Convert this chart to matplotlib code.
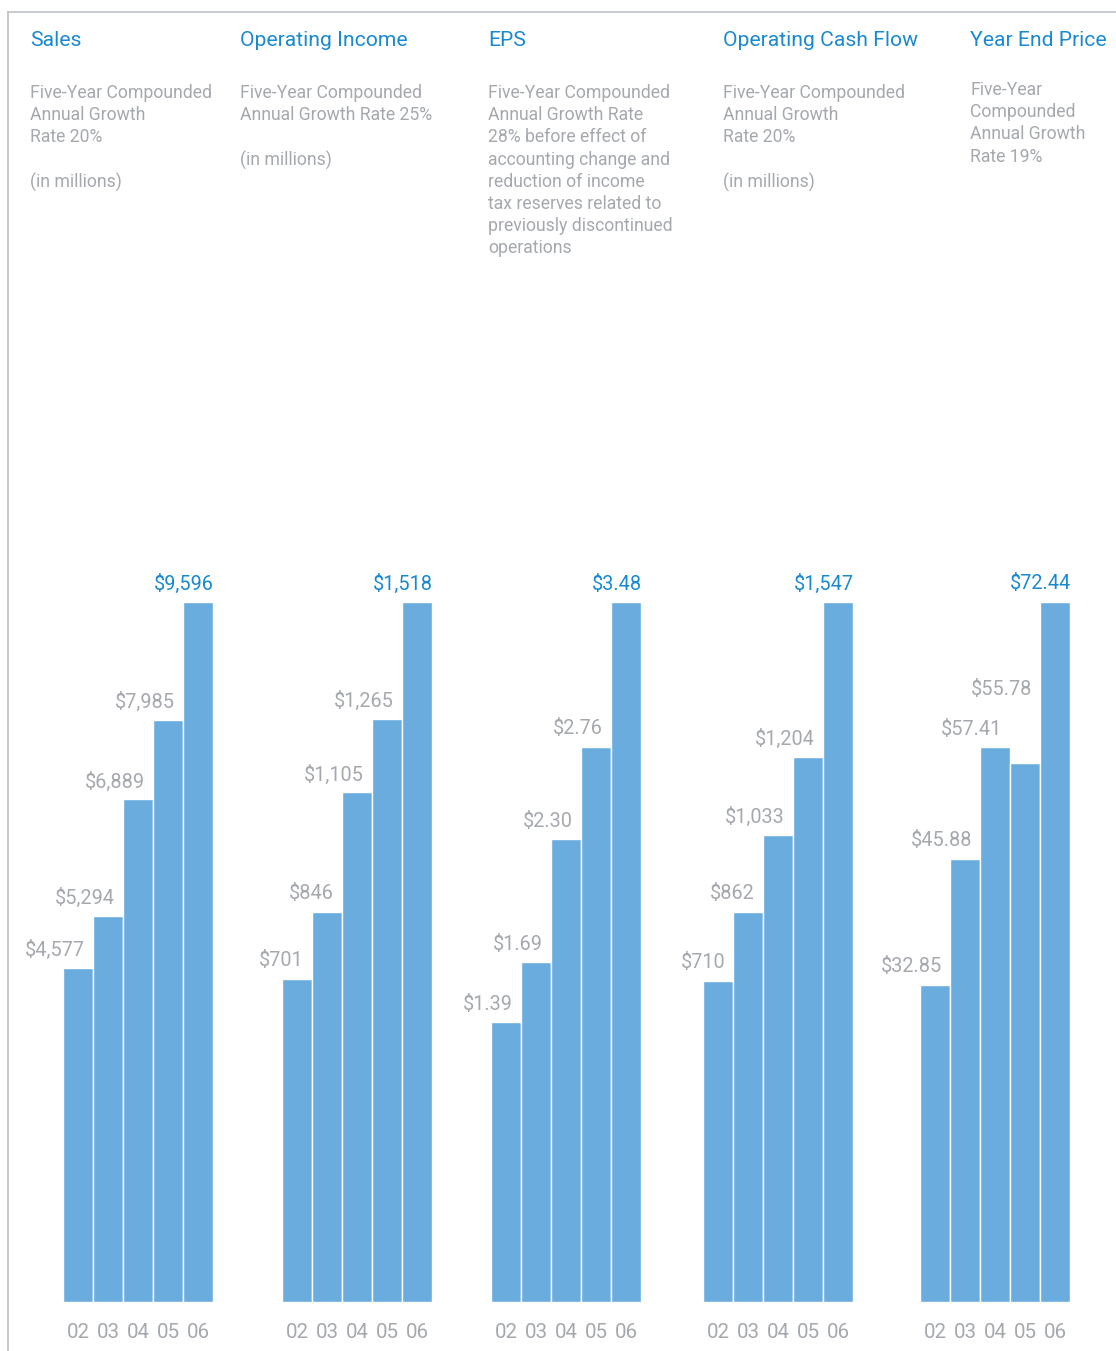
import numpy as np
import matplotlib.pyplot as plt
from matplotlib.lines import Line2D

W, H = 1116, 1351

years = ['02', '03', '04', '05', '06']

titles = ['Sales', 'Operating Income', 'EPS', 'Operating Cash Flow', 'Year End Price']
notes = [
    'Five-Year Compounded\nAnnual Growth\nRate 20%\n\n(in millions)',
    'Five-Year Compounded\nAnnual Growth Rate 25%\n\n(in millions)',
    'Five-Year Compounded\nAnnual Growth Rate\n28% before effect of\naccounting change and\nreduction of income\ntax reserves related to\npreviously discontinued\noperations',
    'Five-Year Compounded\nAnnual Growth\nRate 20%\n\n(in millions)',
    'Five-Year\nCompounded\nAnnual Growth\nRate 19%',
]

sales = [4577, 5294, 6889, 7985, 9596]
op_income = [701, 846, 1105, 1265, 1518]
eps = [1.39, 1.69, 2.30, 2.76, 3.48]
cash_flow = [710, 862, 1033, 1204, 1547]
price = [32.85, 45.88, 57.41, 55.78, 72.44]

label_fmt = ['${:,.0f}', '${:,.0f}', '${:.2f}', '${:,.0f}', '${:.2f}']
series = [sales, op_income, eps, cash_flow, price]

# layout in pixels
bar_left = [63, 282, 491, 703, 920]
title_x = [30, 240, 488, 723, 970]
note_y = [84, 84, 84, 84, 81]
base_y = 1302
plot_h = 700
plot_w = 150

blue_bar = '#6aacde'
blue_txt = '#1a8ad0'
gray_txt = '#a5a9ae'
frame_col = '#c3c7cb'

plt.rcParams['font.family'] = ['Roboto', 'DejaVu Sans']

fig = plt.figure(figsize=(W / 100, H / 100), dpi=100)

# frame lines (top and left)
fig.add_artist(Line2D([8 / W, 1], [1 - 12 / H, 1 - 12 / H], color=frame_col, lw=1.3))
fig.add_artist(Line2D([8 / W, 8 / W], [0, 1 - 12 / H], color=frame_col, lw=1.3))

for k in range(5):
    vals = series[k]
    top = max(vals)
    ax = fig.add_axes([bar_left[k] / W, 1 - base_y / H, plot_w / W, plot_h / H])
    x = np.arange(len(vals))
    ax.bar(x, vals, width=1.0, color=blue_bar, edgecolor='white', linewidth=1.0)
    ax.set_xlim(-0.5, 4.5)
    ax.set_ylim(0, top)
    for s in ax.spines.values():
        s.set_visible(False)
    ax.set_yticks([])
    ax.set_xticks(x)
    ax.set_xticklabels(years, color=gray_txt, fontsize=14.8)
    ax.tick_params(axis='x', length=0, pad=15)

    # value labels, stepped upward
    px = top / plot_h
    prev_y = -1e9
    for i, v in enumerate(vals):
        y = max(v + 18 * px, prev_y + 40 * px)
        prev_y = y
        last = i == len(vals) - 1
        ax.annotate(label_fmt[k].format(v), xy=(i + 0.5, y), xytext=(1 if last else -8, 0),
                    textcoords='offset pixels', ha='right', va='center',
                    color=blue_txt if last else gray_txt, fontsize=14.3,
                    annotation_clip=False)

    fig.text(title_x[k] / W, 1 - 40 / H, titles[k], color=blue_txt, fontsize=15.2,
             ha='left', va='center')
    fig.text(title_x[k] / W, 1 - note_y[k] / H, notes[k], color=gray_txt, fontsize=12.7,
             ha='left', va='top', linespacing=1.3)

fig.savefig('out.png', dpi=100)
